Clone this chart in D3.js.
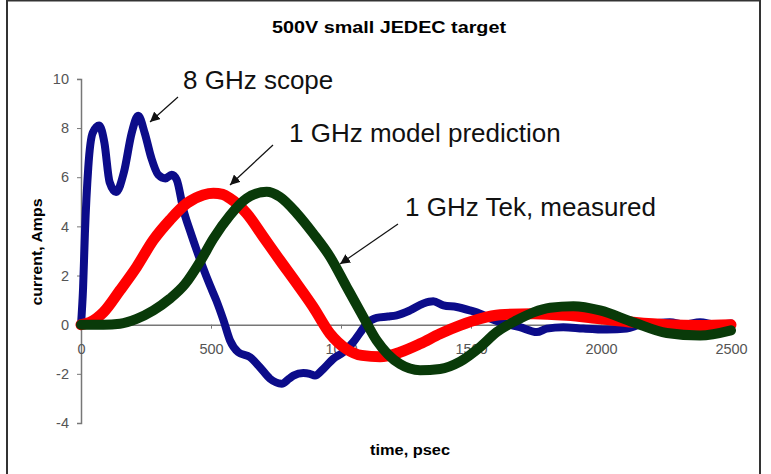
<!DOCTYPE html>
<html>
<head>
<meta charset="utf-8">
<script src="https://d3js.org/d3.v7.min.js"></script>
<style>
  body { margin: 0; background: #fff; }
  text { font-family: Arial, "Liberation Sans", sans-serif; }
</style>
</head>
<body>
<script>
//-----------------------------------------data-------------------------------------------

var xTicks = [0, 500, 1000, 1500, 2000, 2500];
var yTicks = [-4, -2, 0, 2, 4, 6, 8, 10];

// 8 GHz scope (blue)
var scopeTime = [0, 8, 15, 28, 45, 70, 90, 110, 135, 165, 195, 220, 245, 270, 297, 325, 349, 368, 394, 420,
  445, 470, 496, 520, 548, 573, 605, 650, 688, 727, 772, 800, 817, 855, 880, 900, 932, 970, 1009, 1047,
  1075, 1099, 1137, 1180, 1214, 1265, 1317, 1355, 1394, 1445, 1496, 1535, 1575, 1612, 1688, 1753, 1791,
  1855, 1932, 2022, 2099, 2150, 2200, 2265, 2320, 2381, 2440, 2500];
var scopeCurrent = [0, 1.5, 3.7, 6.4, 7.8, 8.1, 7.4, 5.8, 5.4, 6.2, 7.8, 8.5, 7.8, 6.8, 6.1, 5.95, 6.1, 5.9, 4.67, 3.8,
  3.03, 2.3, 1.6, 1.0, 0.18, -0.64, -1.12, -1.32, -1.73, -2.2, -2.4, -2.2, -2.07, -1.97, -2.0, -2.07, -1.8, -1.39, -1.12, -0.71,
  -0.3, 0.04, 0.28, 0.33, 0.38, 0.58, 0.86, 0.95, 0.79, 0.72, 0.58, 0.45, 0.25, 0.1, -0.1, -0.3, -0.16,
  -0.1, -0.16, -0.2, -0.16, 0, 0.05, 0.1, 0, 0.1, 0, 0.05];

// 1 GHz model prediction (red)
var modelTime = [0, 35, 86, 150, 214, 278, 342, 407, 470, 509, 545, 573, 637, 701, 765, 830, 893, 958, 1022,
  1080, 1150, 1227, 1304, 1381, 1458, 1535, 1612, 1740, 1868, 1996, 2124, 2253, 2381, 2500];
var modelCurrent = [0, 0.1, 0.5, 1.4, 2.35, 3.44, 4.26, 4.94, 5.28, 5.35, 5.3, 5.14, 4.53, 3.58, 2.62, 1.67, 0.72, -0.37, -1.0,
  -1.25, -1.3, -1.12, -0.78, -0.37, -0.03, 0.24, 0.4, 0.45, 0.38, 0.24, 0.1, 0.0, -0.03, 0];

// 1 GHz Tek, measured (green)
var tekTime = [0, 86, 150, 214, 278, 342, 400, 460, 509, 573, 637, 714, 765, 830, 893, 958, 1022, 1086, 1137,
  1180, 1227, 1304, 1381, 1458, 1535, 1599, 1676, 1740, 1804, 1894, 1996, 2124, 2253, 2381, 2500];
var tekCurrent = [0, 0, 0.04, 0.24, 0.58, 1.06, 1.65, 2.6, 3.5, 4.45, 5.14, 5.41, 5.2, 4.53, 3.71, 2.76, 1.53, 0.31, -0.64,
  -1.2, -1.6, -1.85, -1.8, -1.5, -0.91, -0.3, 0.18, 0.5, 0.69, 0.75, 0.58, 0.1, -0.34, -0.44, -0.23];

var labels = ["8 GHz scope", "1 GHz model prediction", "1 GHz Tek, measured"];

//-----------------------------------------SVG-------------------------------------------

var svg = d3.select("body")
  .append("svg")
  .attr("width", 771)
  .attr("height", 474);

svg.append("rect")
  .attr("x", 7).attr("y", 0.5)
  .attr("width", 753).attr("height", 490)
  .attr("fill", "#fff")
  .attr("stroke", "#333")
  .attr("stroke-width", 2);

var x = d3.scaleLinear().domain([0, 2500]).range([81, 731]);
var y = d3.scaleLinear().domain([-4, 10]).range([423, 78.9]);

//-----------------------------------------axes-------------------------------------------

var plain = function(d) { return String(d); };

var yAxis = svg.append("g")
  .attr("transform", "translate(" + x(0) + ",0)")
  .call(d3.axisLeft(y).tickValues(yTicks).tickSize(4).tickPadding(8).tickFormat(plain));

var xAxis = svg.append("g")
  .attr("transform", "translate(0," + y(0) + ")")
  .call(d3.axisBottom(x).tickValues(xTicks).tickSize(4).tickPadding(15).tickFormat(plain));

[xAxis, yAxis].forEach(function(a) {
  a.select(".domain").attr("stroke", "#777").attr("stroke-width", 1.5);
  a.selectAll(".tick line").attr("stroke", "#777");
  a.selectAll(".tick text")
    .attr("fill", "#555")
    .style("font-size", "14.5px")
    .style("font-family", "Arial, 'Liberation Sans', sans-serif");
});

//-----------------------------------------lines------------------------------------------

function pairs(t, v) {
  return t.map(function(d, i) { return [d, v[i]]; });
}

var line = d3.line()
  .x(function(d) { return x(d[0]); })
  .y(function(d) { return y(d[1]); })
  .curve(d3.curveMonotoneX);

var series = [
  { data: pairs(scopeTime, scopeCurrent), color: "#0c0c8a", w: 8 },
  { data: pairs(modelTime, modelCurrent), color: "#ff0000", w: 11 },
  { data: pairs(tekTime, tekCurrent), color: "#093a09", w: 10 }
];

svg.append("g")
  .selectAll("path")
  .data(series)
  .enter().append("path")
  .attr("d", function(d) { return line(d.data); })
  .attr("fill", "none")
  .attr("stroke", function(d) { return d.color; })
  .attr("stroke-width", function(d) { return d.w; })
  .attr("stroke-linejoin", "round")
  .attr("stroke-linecap", "round");

//-----------------------------------------texts------------------------------------------

svg.append("text")
  .attr("x", 389).attr("y", 33)
  .attr("text-anchor", "middle")
  .attr("textLength", 234).attr("lengthAdjust", "spacingAndGlyphs")
  .style("font-size", "16px").style("font-weight", "bold")
  .text("500V small JEDEC target");

svg.append("text")
  .attr("transform", "translate(42,252) rotate(-90)")
  .attr("text-anchor", "middle")
  .attr("textLength", 107).attr("lengthAdjust", "spacingAndGlyphs")
  .style("font-size", "15px").style("font-weight", "bold")
  .text("current, Amps");

svg.append("text")
  .attr("x", 410).attr("y", 455)
  .attr("text-anchor", "middle")
  .attr("textLength", 80).attr("lengthAdjust", "spacingAndGlyphs")
  .style("font-size", "14px").style("font-weight", "bold")
  .text("time, psec");

//-----------------------------------------annotations------------------------------------

svg.append("defs").append("marker")
  .attr("id", "arrow")
  .attr("viewBox", "0 0 10 10")
  .attr("refX", 10).attr("refY", 5)
  .attr("markerWidth", 10).attr("markerHeight", 10)
  .attr("markerUnits", "userSpaceOnUse")
  .attr("orient", "auto")
  .append("path")
  .attr("d", "M0,0L10,5L0,10z")
  .attr("fill", "#111");

var notes = [
  { text: labels[0], tx: 183, ty: 89, x1: 178, y1: 97, x2: 150, y2: 122 },
  { text: labels[1], tx: 289, ty: 142, x1: 273, y1: 145, x2: 230, y2: 185 },
  { text: labels[2], tx: 405, ty: 216, x1: 398, y1: 224, x2: 340, y2: 264 }
];

svg.append("g")
  .selectAll("text")
  .data(notes)
  .enter().append("text")
  .attr("x", function(d) { return d.tx; })
  .attr("y", function(d) { return d.ty; })
  .style("font-size", "26px")
  .attr("fill", "#111")
  .text(function(d) { return d.text; });

svg.append("g")
  .selectAll("line")
  .data(notes)
  .enter().append("line")
  .attr("x1", function(d) { return d.x1; })
  .attr("y1", function(d) { return d.y1; })
  .attr("x2", function(d) { return d.x2; })
  .attr("y2", function(d) { return d.y2; })
  .attr("stroke", "#111")
  .attr("stroke-width", 1.2)
  .attr("marker-end", "url(#arrow)");
</script>
</body>
</html>
